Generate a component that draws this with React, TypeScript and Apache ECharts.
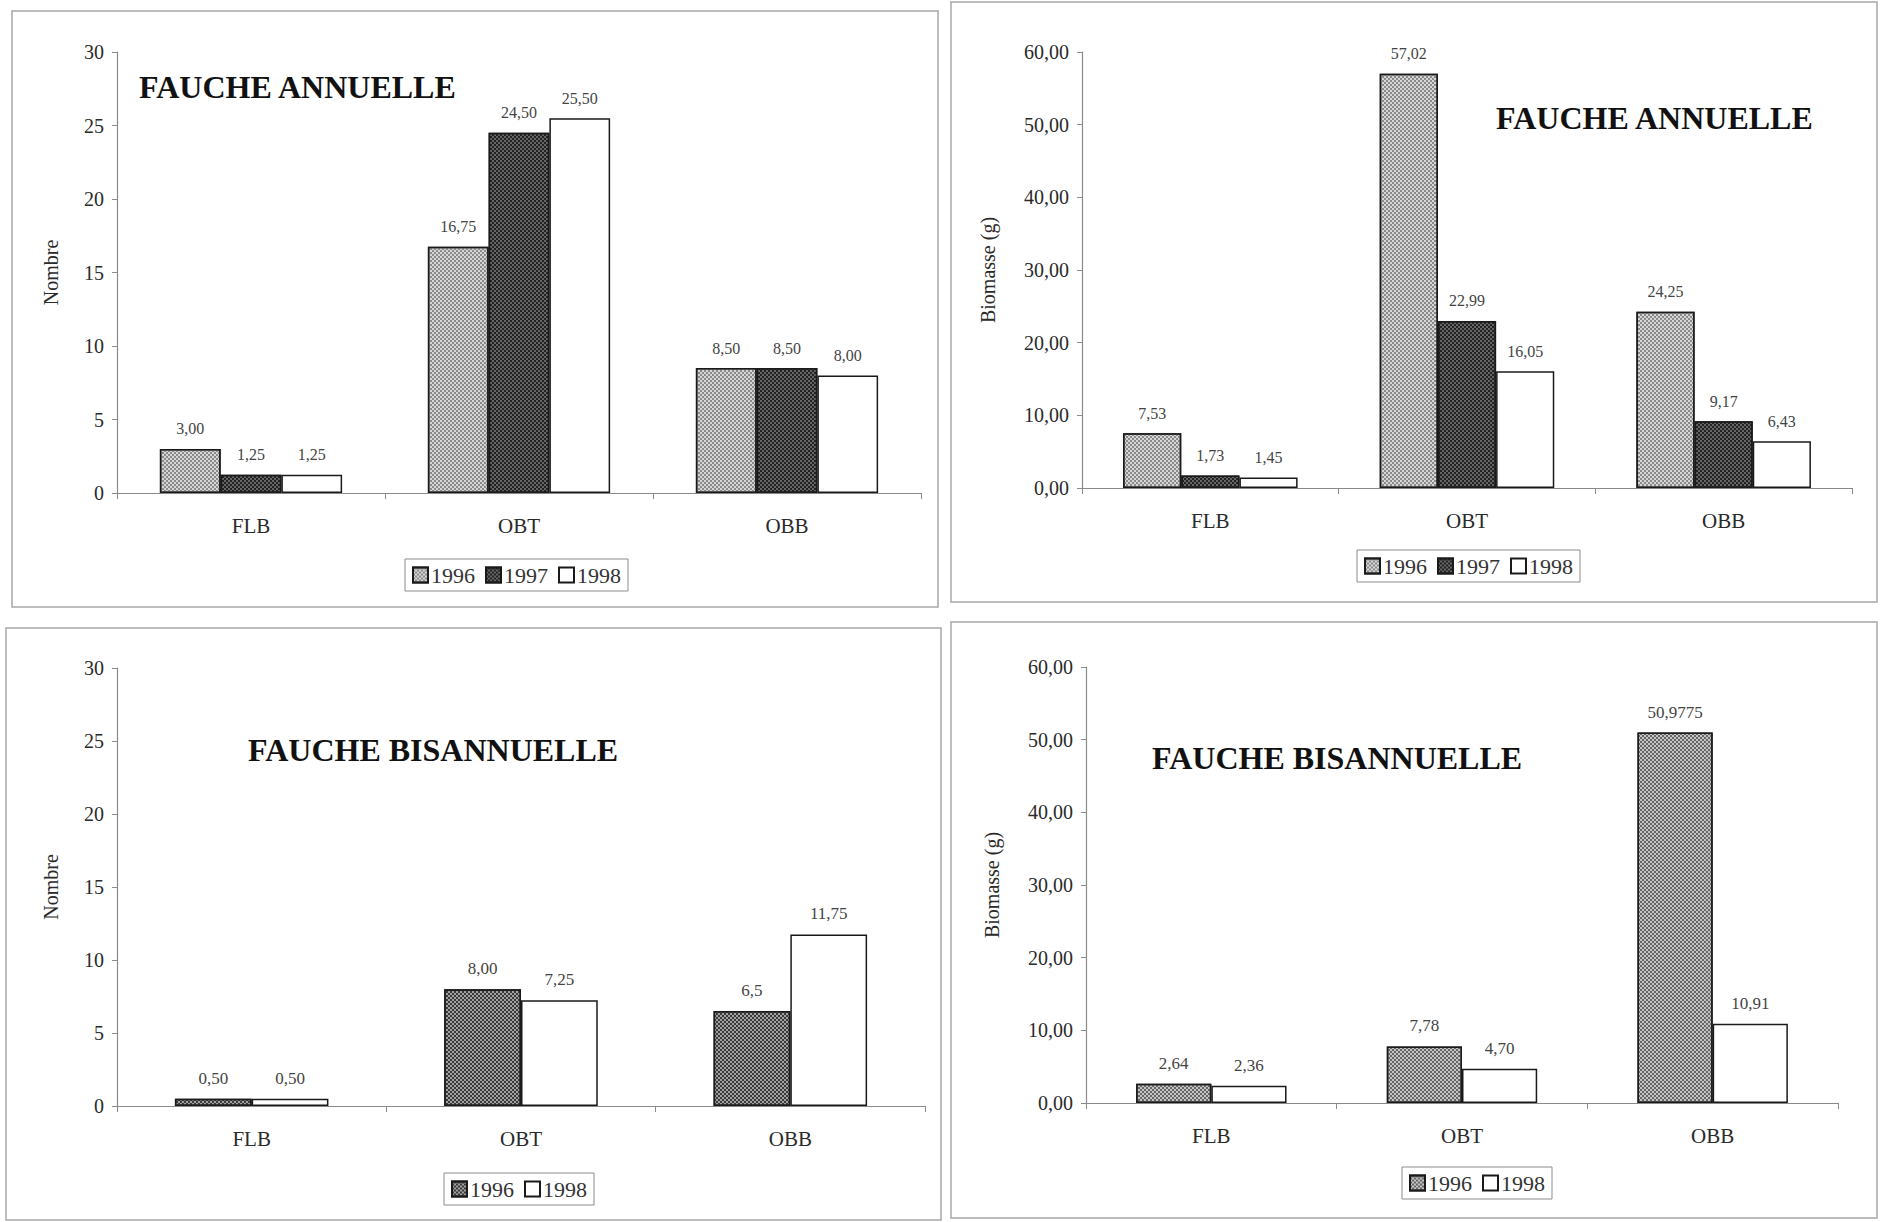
import React, { useEffect, useRef } from "react";
import * as echarts from "echarts";

const categories = ["FLB", "OBT", "OBB"];
const annNb1996 = [3.0, 16.75, 8.5];
const annNb1997 = [1.25, 24.5, 8.5];
const annNb1998 = [1.25, 25.5, 8.0];
const annBio1996 = [7.53, 57.02, 24.25];
const annBio1997 = [1.73, 22.99, 9.17];
const annBio1998 = [1.45, 16.05, 6.43];
const bisNb1996 = [0.5, 8.0, 6.5];
const bisNb1998 = [0.5, 7.25, 11.75];
const bisBio1996 = [2.64, 7.78, 50.9775];
const bisBio1998 = [2.36, 4.7, 10.91];
const bisNbLabels1996 = ["0,50", "8,00", "6,5"];
const bisBioLabels1996 = ["2,64", "7,78", "50,9775"];
const nbTicks = { min: 0, max: 30, interval: 5 };
const bioTicks = { min: 0, max: 60, interval: 10 };

const SERIF = "Liberation Serif";

const fmt2 = (v: number) => v.toFixed(2).replace(".", ",");

const checker = (base: string, dot: string) => ({
  color: base,
  decal: {
    symbol: "rect",
    symbolSize: 1,
    color: dot,
    dashArrayX: [[2, 2], [0, 2, 2, 0]],
    dashArrayY: [2, 0],
    rotation: 0,
  },
});

const styleLight = checker("#d6d6d6", "#8a8a8a");
const styleDark = checker("#666666", "#222222");
const styleMid = checker("#a0a0a0", "#3a3a3a");
const styleBR = checker("#c4c4c4", "#666666");
const styleWhite = { color: "#ffffff" };

type SeriesDef = { name: string; data: number[]; style: any; labels?: string[] };

type Panel = {
  left: number;
  top: number;
  w: number;
  h: number;
  grid: { left: number; top: number; width: number; height: number };
  frame: [number, number, number, number];
  title: string;
  titlePos: [number, number];
  legendPos: [number, number];
  yName: string;
  yNameGap: number;
  yFmt: (v: number) => string;
  ticks: { min: number; max: number; interval: number };
  gap: string;
  series: SeriesDef[];
  labelSize: number;
  yLabelSize: number;
};

const panels: Panel[] = [
  {
    left: 0, top: 0, w: 948, h: 615,
    grid: { left: 117, top: 52, width: 804, height: 441 },
    frame: [12, 11, 926, 596],
    title: "FAUCHE ANNUELLE",
    titlePos: [139, 87],
    legendPos: [405, 559],
    yName: "Nombre",
    yNameGap: 56,
    yFmt: (v) => String(v),
    ticks: nbTicks,
    gap: "32%",
    labelSize: 16,
    yLabelSize: 20,
    series: [
      { name: "1996", data: annNb1996, style: styleLight },
      { name: "1997", data: annNb1997, style: styleDark },
      { name: "1998", data: annNb1998, style: styleWhite },
    ],
  },
  {
    left: 948, top: 0, w: 948, h: 615,
    grid: { left: 134, top: 52, width: 770, height: 436 },
    frame: [3, 2, 926, 600],
    title: "FAUCHE ANNUELLE",
    titlePos: [548, 118],
    legendPos: [409, 550],
    yName: "Biomasse (g)",
    yNameGap: 84,
    yFmt: fmt2,
    ticks: bioTicks,
    gap: "32%",
    labelSize: 16,
    yLabelSize: 20,
    series: [
      { name: "1996", data: annBio1996, style: styleLight },
      { name: "1997", data: annBio1997, style: styleDark },
      { name: "1998", data: annBio1998, style: styleWhite },
    ],
  },
  {
    left: 0, top: 615, w: 948, h: 607,
    grid: { left: 117, top: 53, width: 808, height: 438 },
    frame: [6, 13, 935, 592],
    title: "FAUCHE BISANNUELLE",
    titlePos: [248, 135],
    legendPos: [444, 558],
    yName: "Nombre",
    yNameGap: 56,
    yFmt: (v) => String(v),
    ticks: nbTicks,
    gap: "43%",
    labelSize: 17,
    yLabelSize: 20,
    series: [
      { name: "1996", data: bisNb1996, style: styleMid, labels: bisNbLabels1996 },
      { name: "1998", data: bisNb1998, style: styleWhite },
    ],
  },
  {
    left: 948, top: 615, w: 948, h: 607,
    grid: { left: 138, top: 52, width: 752, height: 436 },
    frame: [3, 7, 926, 596],
    title: "FAUCHE BISANNUELLE",
    titlePos: [204, 143],
    legendPos: [454, 552],
    yName: "Biomasse (g)",
    yNameGap: 84,
    yFmt: fmt2,
    ticks: bioTicks,
    gap: "40%",
    labelSize: 17,
    yLabelSize: 20,
    series: [
      { name: "1996", data: bisBio1996, style: styleBR, labels: bisBioLabels1996 },
      { name: "1998", data: bisBio1998, style: styleWhite },
    ],
  },
];

function buildOption(p: Panel): any {
  return {
    animation: false,
    backgroundColor: "#ffffff",
    textStyle: { fontFamily: SERIF },
    grid: { ...p.grid },
    legend: {
      left: p.legendPos[0],
      top: p.legendPos[1],
      orient: "horizontal",
      icon: "rect",
      borderColor: "#8c8c8c",
      borderWidth: 1,
      padding: [5, 7, 5, 7],
      itemWidth: 15,
      itemHeight: 15,
      itemGap: 10,
      textStyle: { fontFamily: SERIF, fontSize: 22, color: "#333", padding: [0, 0, 0, -2] },
      data: p.series.map((s) => s.name),
    },
    xAxis: {
      type: "category",
      data: categories,
      axisLine: { lineStyle: { color: "#8a8a8a", width: 1.2 } },
      axisTick: { show: true, length: 6, lineStyle: { color: "#8a8a8a" } },
      axisLabel: { fontFamily: SERIF, fontSize: 21, color: "#2a2a2a", margin: 22 },
    },
    yAxis: {
      type: "value",
      min: p.ticks.min,
      max: p.ticks.max,
      interval: p.ticks.interval,
      name: p.yName,
      nameLocation: "middle",
      nameGap: p.yNameGap,
      nameRotate: 90,
      nameTextStyle: { fontFamily: SERIF, fontSize: 20, color: "#2a2a2a" },
      axisLine: { show: true, lineStyle: { color: "#8a8a8a", width: 1.2 } },
      axisTick: { show: true, length: 5, lineStyle: { color: "#8a8a8a" } },
      splitLine: { show: false },
      axisLabel: {
        fontFamily: SERIF,
        fontSize: p.yLabelSize,
        color: "#2a2a2a",
        margin: 13,
        formatter: (v: number) => p.yFmt(v),
      },
    },
    series: p.series.map((s) => ({
      type: "bar",
      name: s.name,
      data: s.data,
      barGap: "0%",
      barCategoryGap: p.gap,
      itemStyle: { ...s.style, borderColor: "#1a1a1a", borderWidth: 1.5 },
      label: {
        show: true,
        position: "top",
        distance: 12,
        fontFamily: SERIF,
        fontSize: p.labelSize,
        color: "#444",
        formatter: (q: any) => (s.labels ? s.labels[q.dataIndex] : fmt2(q.value)),
      },
    })),
    graphic: [
      {
        type: "rect",
        shape: { x: p.frame[0], y: p.frame[1], width: p.frame[2], height: p.frame[3] },
        style: { fill: "none", stroke: "#a8a8a8", lineWidth: 1.5 },
        silent: true,
        z: -1,
      },
      {
        type: "text",
        x: p.titlePos[0],
        y: p.titlePos[1],
        style: {
          text: p.title,
          fontFamily: SERIF,
          fontWeight: "bold",
          fontSize: 32,
          fill: "#111",
          textVerticalAlign: "middle",
          verticalAlign: "middle",
        },
      },
    ],
  };
}

export default function App() {
  const refs = [useRef<HTMLDivElement>(null), useRef<HTMLDivElement>(null), useRef<HTMLDivElement>(null), useRef<HTMLDivElement>(null)];
  useEffect(() => {
    const charts = panels.map((p, i) => {
      const c = echarts.init(refs[i].current!, undefined, { renderer: "svg" });
      c.setOption(buildOption(p));
      return c;
    });
    return () => charts.forEach((c) => c.dispose());
  }, []);
  return (
    <div style={{ position: "absolute", left: 0, top: 0, width: 1896, height: 1222, background: "#fff" }}>
      {panels.map((p, i) => (
        <div
          key={i}
          ref={refs[i]}
          style={{ position: "absolute", left: p.left, top: p.top, width: p.w, height: p.h }}
        />
      ))}
    </div>
  );
}
